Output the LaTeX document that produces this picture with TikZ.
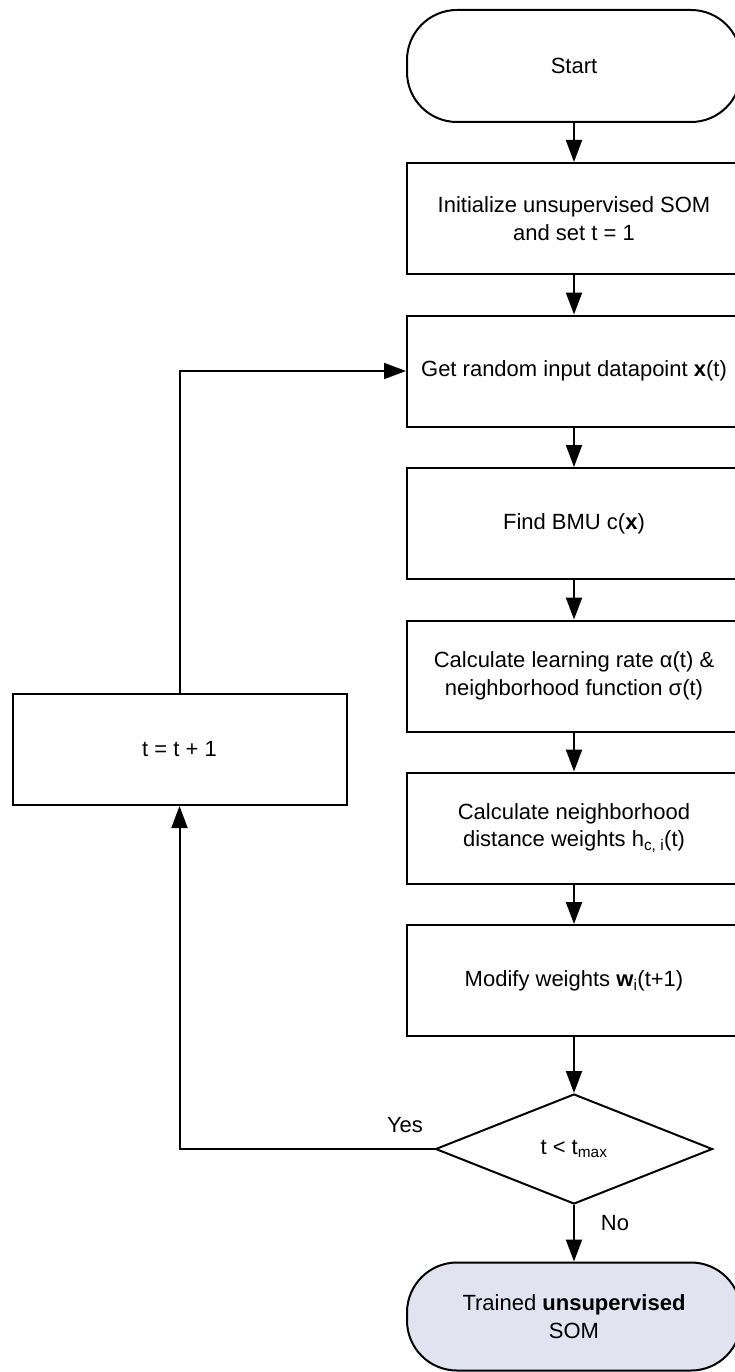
\documentclass[tikz,border=0pt]{standalone}
\usepackage{fontspec}
\setmainfont{Liberation Sans}
\usetikzlibrary{shapes.geometric,arrows.meta}
\definecolor{tfill}{RGB}{225,228,240}
\begin{document}
\begin{tikzpicture}[x=1pt,y=-1pt,
  every node/.style={font=\fontsize{22}{27.5}\selectfont},
  box/.style={draw, line width=2pt, minimum width=334pt, minimum height=111pt, align=center, inner sep=0pt},
  term/.style={box, rounded corners=50pt, minimum height=112pt},
  dia/.style={draw, line width=2pt, diamond, minimum width=277pt, minimum height=110pt, inner sep=0pt, align=center},
  arr/.style={line width=2pt, -{Triangle[length=22pt,width=16pt]}}]
\useasboundingbox (0,0) rectangle (734,1372);
\node[term] (start) at (574,66) {Start};
\node[box] (init) at (574,218.5) {Initialize unsupervised SOM\\and set t = 1};
\node[box] (get) at (574,371) {Get random input datapoint \textbf{x}(t)};
\node[box] (bmu) at (574,523.5) {Find BMU c(\textbf{x})};
\node[box] (lr) at (574,676) {Calculate learning rate α(t) \&\\neighborhood function σ(t)};
\node[box] (nb) at (574,828) {Calculate neighborhood\\distance weights h\textsubscript{c, i}(t)};
\node[box] (mod) at (574,980.5) {Modify weights \textbf{w}\textsubscript{i}(t+1)};
\node[dia] (dec) at (574,1149) {t {\char`<} t\textsubscript{max}};
\node[term, fill=tfill, minimum height=108pt] (trained) at (574,1316.5) {Trained \textbf{unsupervised}\\SOM};
\node[box] (incr) at (179.5,749.5) {t = t + 1};
\node (yes) at (405,1125) {Yes};
\node (no) at (615,1223) {No};
\draw[arr] (start) -- (init);
\draw[arr] (init) -- (get);
\draw[arr] (get) -- (bmu);
\draw[arr] (bmu) -- (lr);
\draw[arr] (lr) -- (nb);
\draw[arr] (nb) -- (mod);
\draw[arr] (mod) -- (dec);
\draw[arr] (dec) -- (trained);
\draw[arr] (dec.west) -| (incr.south);
\draw[arr] (incr.north) |- (get.west);
\end{tikzpicture}
\end{document}
